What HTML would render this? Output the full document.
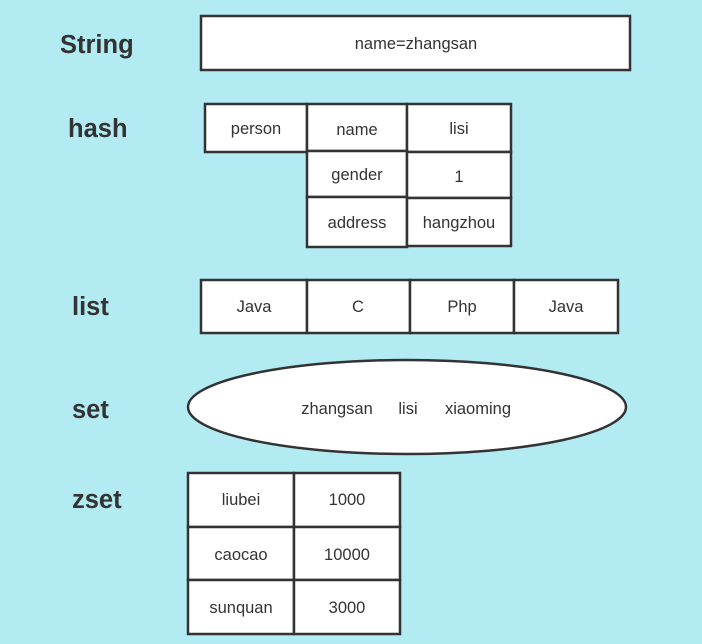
<!DOCTYPE html>
<html><head><meta charset="utf-8"><style>
html,body{margin:0;padding:0;background:#b2ebf2;}
svg{display:block;}
text{font-family:"Liberation Sans","DejaVu Sans",sans-serif;fill:#333;}
.t{font-size:16.5px;text-anchor:middle;dominant-baseline:central;}
.h{font-size:25.5px;font-weight:bold;dominant-baseline:central;}
rect,ellipse{fill:#fff;stroke:#333;stroke-width:2.5;}
</style></head><body>
<svg width="702" height="644" viewBox="0 0 702 644" xmlns="http://www.w3.org/2000/svg">
<g transform="translate(0,1)">
<text class="h" x="60" y="44">String</text>
<text class="h" x="68" y="128">hash</text>
<text class="h" x="72" y="306">list</text>
<text class="h" x="72" y="409">set</text>
<text class="h" x="72" y="499">zset</text>
</g>

<rect x="201" y="16" width="429" height="54"/>
<rect x="205" y="104" width="102" height="48"/>
<rect x="307" y="104" width="100" height="47"/>
<rect x="407" y="104" width="104" height="48"/>
<rect x="307" y="151" width="100" height="46"/>
<rect x="407" y="152" width="104" height="46"/>
<rect x="307" y="197" width="100" height="50"/>
<rect x="407" y="198" width="104" height="48"/>
<rect x="201" y="280" width="106" height="53"/>
<rect x="307" y="280" width="103" height="53"/>
<rect x="410" y="280" width="104" height="53"/>
<rect x="514" y="280" width="104" height="53"/>
<ellipse cx="407" cy="407" rx="219" ry="47"/>
<rect x="188" y="473" width="106" height="54"/>
<rect x="294" y="473" width="106" height="54"/>
<rect x="188" y="527" width="106" height="53"/>
<rect x="294" y="527" width="106" height="53"/>
<rect x="188" y="580" width="106" height="54"/>
<rect x="294" y="580" width="106" height="54"/>

<g transform="translate(0,1)">
<text class="t" x="416" y="43">name=zhangsan</text>
<text class="t" x="256" y="128">person</text>
<text class="t" x="357" y="129">name</text>
<text class="t" x="459" y="128">lisi</text>
<text class="t" x="357" y="174">gender</text>
<text class="t" x="459" y="176">1</text>
<text class="t" x="357" y="222">address</text>
<text class="t" x="459" y="222">hangzhou</text>
<text class="t" x="254" y="306">Java</text>
<text class="t" x="358" y="306">C</text>
<text class="t" x="462" y="306">Php</text>
<text class="t" x="566" y="306">Java</text>
<text class="t" x="337" y="408">zhangsan</text>
<text class="t" x="408" y="408">lisi</text>
<text class="t" x="478" y="408">xiaoming</text>
<text class="t" x="241" y="499">liubei</text>
<text class="t" x="347" y="499">1000</text>
<text class="t" x="241" y="554">caocao</text>
<text class="t" x="347" y="554">10000</text>
<text class="t" x="241" y="607">sunquan</text>
<text class="t" x="347" y="607">3000</text>
</g>
</svg>
</body></html>
